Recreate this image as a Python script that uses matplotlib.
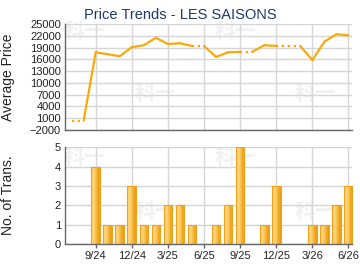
import matplotlib
matplotlib.use("Agg")
import matplotlib.pyplot as plt
import numpy as np
from matplotlib.colors import LinearSegmentedColormap

plt.rcParams['font.family'] = ['Liberation Sans', 'DejaVu Sans']

# Data
months = ["7/24", "8/24", "9/24", "10/24", "11/24", "12/24", "1/25", "2/25", "3/25",
          "4/25", "5/25", "6/25", "7/25", "8/25", "9/25", "10/25", "11/25", "12/25",
          "1/26", "2/26", "3/26", "4/26", "5/26", "6/26"]
prices = [400, None, 17800, 17300, 16800, 19100, 19600, 21500, 19900,
          20100, 19400, None, 16600, 17800, 17900, None, 19600, 19400,
          None, None, 15800, 20500, 22400, 22100]
trans = [0, 0, 4, 1, 1, 3, 1, 1, 2, 2, 1, 0, 1, 2, 5, 0, 1, 3, 0, 0, 1, 1, 2, 3]
tick_labels = ["9/24", "12/24", "3/25", "6/25", "9/25", "12/25", "3/26", "6/26"]
price_ticks = [-2000, 1000, 4000, 7000, 10000, 13000, 16000, 19000, 22000, 25000]
title = "Price Trends - LES SAISONS"

x = np.arange(len(months))
tick_pos = [months.index(t) for t in tick_labels]

fig = plt.figure(figsize=(3.6, 2.7), dpi=100)
ax1 = fig.add_axes([0.1806, 0.5185, 0.7974, 0.3926])
ax2 = fig.add_axes([0.1806, 0.0963, 0.7974, 0.3581])

grid_c = '#D6D6D6'
spine_c = '#666666'
line_c = '#FBA90A'
xlim = (-0.55, len(months) - 1 + 0.3)

# Watermarks (behind everything)
wm = dict(fontsize=15, color='#F1F1F1', fontweight='bold', ha='center', va='center',
          family=['Noto Sans CJK SC', 'DejaVu Sans'], zorder=-5)
for (px, py) in [(84, 32), (235, 32), (155, 93), (315, 93), (84, 157), (235, 157), (155, 212), (315, 212)]:
    ax = ax1 if py < 135 else ax2
    ax.text(px / 360, 1 - py / 270, "科一", transform=fig.transFigure, **wm)

for ax in (ax1, ax2):
    ax.set_xlim(*xlim)
    ax.set_xticks(tick_pos)
    ax.grid(True, color=grid_c, linewidth=1.0, zorder=0)
    ax.set_axisbelow(True)
    for s in ('top', 'right'):
        ax.spines[s].set_visible(False)
    for s in ('left', 'bottom'):
        ax.spines[s].set_color(spine_c)
        ax.spines[s].set_linewidth(1.0)
    ax.tick_params(axis='y', length=0, labelsize=8, colors='#222222', pad=3)

# Top: price line
ax1.set_ylim(-2000, 25000)
ax1.set_yticks(price_ticks)
ax1.tick_params(axis='x', length=0, labelbottom=False)
carried = []
last = None
for p in prices:
    if p is not None:
        last = p
    carried.append(last)
for i in range(len(prices) - 1):
    if prices[i + 1] is None:
        ax1.plot([x[i], x[i + 1]], [carried[i], carried[i + 1]], color=line_c,
                 linewidth=1.6, linestyle=(0, (1, 1.6)), zorder=3)
    else:
        ax1.plot([x[i], x[i + 1]], [carried[i], prices[i + 1]], color=line_c,
                 linewidth=1.6, solid_capstyle='round', zorder=3)
ax1.set_ylabel("Average Price", fontsize=10, color='#222222')
ax1.yaxis.set_label_coords(-0.174, 0.5)
fig.text(0.5, 0.945, title, ha='center', va='center', fontsize=10.5, color='#1F3A68')

# Bottom: transactions bars with gradient
ax2.set_ylim(0, 5)
ax2.set_yticks(range(0, 6))
ax2.set_xticks(tick_pos)
ax2.set_xticklabels(tick_labels)
ax2.tick_params(axis='x', length=3, width=1, color=spine_c, labelsize=8, labelcolor='#222222', pad=2)
bars = ax2.bar(x, trans, width=0.72, color='none', edgecolor='#F0A318', linewidth=0.8, zorder=3)
grad = np.linspace(0, 1, 64).reshape(1, -1)
cmap = LinearSegmentedColormap.from_list('bar', ['#F8C450', '#FFD98A', '#F9C552', '#F2A925', '#E89B15'])
for b in bars:
    h = b.get_height()
    if h <= 0:
        continue
    x0 = b.get_x()
    w = b.get_width()
    im = ax2.imshow(grad, cmap=cmap, aspect='auto', extent=(x0, x0 + w, 0, h),
                    zorder=2.5, interpolation='bilinear')
    im.set_clip_path(b)
ax2.set_xlim(*xlim)
ax2.set_ylim(0, 5)
ax2.set_ylabel("No. of Trans.", fontsize=10, color='#222222')
ax2.yaxis.set_label_coords(-0.174, 0.5)

fig.savefig("out.png", dpi=100)
